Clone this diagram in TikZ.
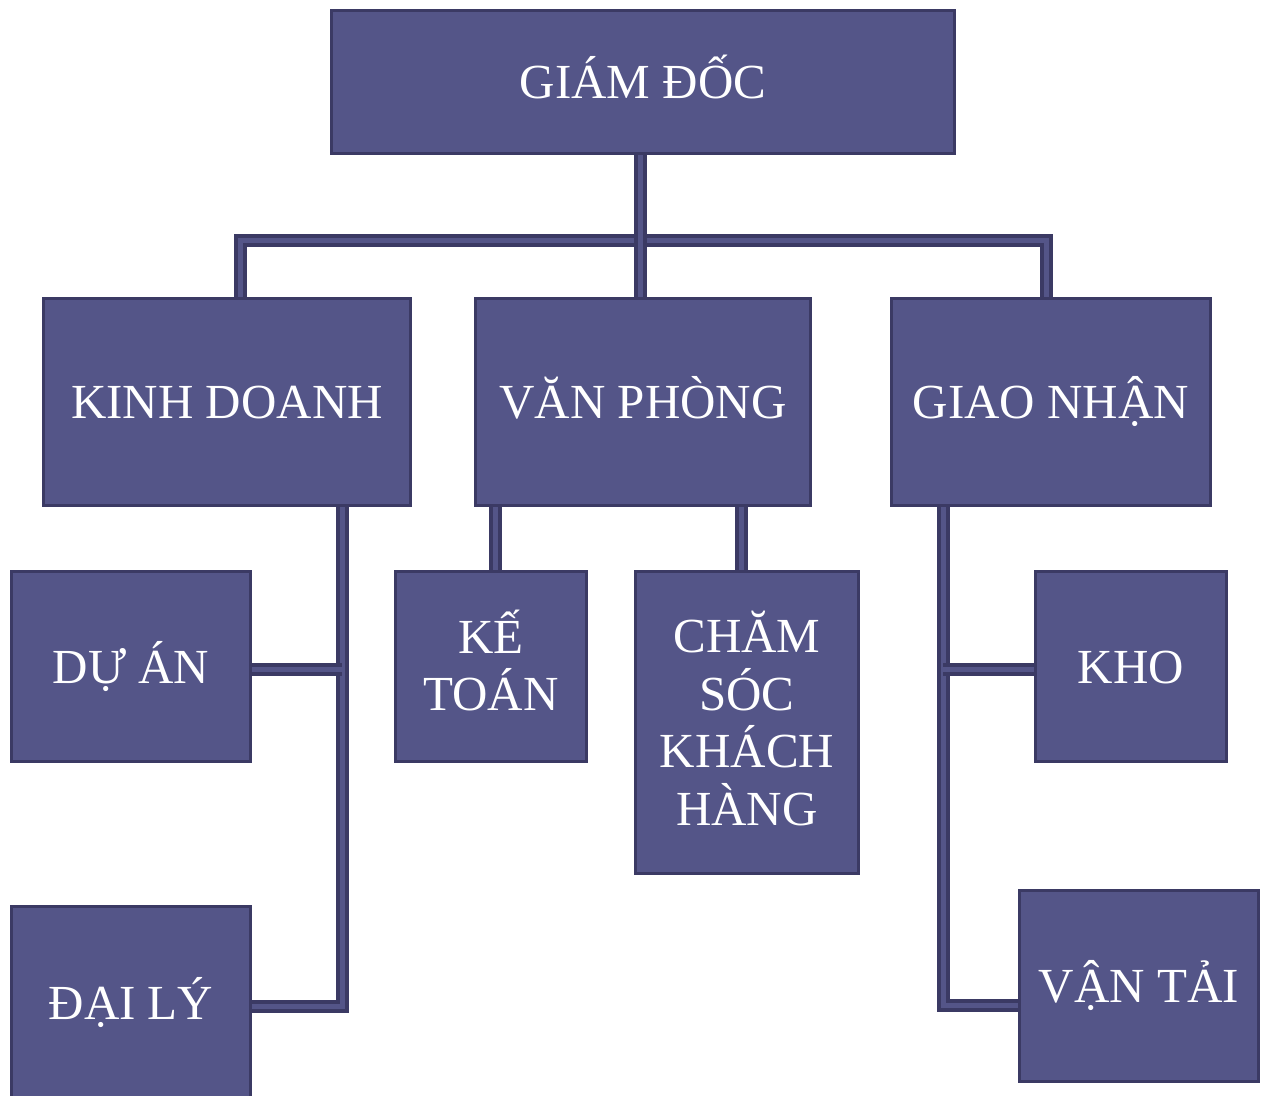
\documentclass[tikz,border=0pt]{standalone}
\usepackage{fontspec}
\setmainfont{Liberation Serif}
\usetikzlibrary{backgrounds}
\definecolor{boxfill}{HTML}{545588}
\definecolor{boxline}{HTML}{3B3A64}
\begin{document}
\begin{tikzpicture}[x=1pt,y=-1pt,
  box/.style={draw=boxline, line width=3pt, fill=boxfill, rectangle, inner sep=0pt,
    text=white, font=\fontsize{49}{57.5}\selectfont, align=center},
  lbl/.style={text=white, font=\fontsize{49}{57.5}\selectfont, align=center, inner sep=0pt},
  one/.style={text height=33pt, text depth=0pt},
  conn/.style={draw=boxline, line width=4pt, double=boxfill, double distance=5pt, line join=miter}]
\useasboundingbox (0,0) rectangle (1265,1095);
\begin{scope}
\clip (0,0) rectangle (1265,1095);
% boxes
\node[box, one, minimum width=623pt, minimum height=143pt] (gd) at (643,82) {GIÁM ĐỐC};
\node[box, one, minimum width=367pt, minimum height=207pt] (kd) at (227,402) {KINH DOANH};
\node[box, one, minimum width=335pt, minimum height=207pt] (vp) at (643,402) {VĂN PHÒNG};
\node[box, one, minimum width=319pt, minimum height=207pt] (gn) at (1051,402) {GIAO NHẬN};
\node[box, one, minimum width=239pt, minimum height=190pt] (da) at (131,666.5) {DỰ ÁN};
\node[box, one, minimum width=239pt, minimum height=192pt] (dl) at (131,1002.5) {ĐẠI LÝ};
\node[box, minimum width=191pt, minimum height=190pt,
  label={[lbl, yshift=6pt]center:KẾ\\TOÁN}] (kt) at (491,666.5) {};
\node[box, minimum width=223pt, minimum height=302pt,
  label={[lbl, yshift=4pt]center:CHĂM\\SÓC\\KHÁCH\\HÀNG}] (cs) at (747,722.5) {};
\node[box, one, minimum width=191pt, minimum height=190pt] (kh) at (1131,666.5) {KHO};
\node[box, one, minimum width=239pt, minimum height=191pt] (vt) at (1139,986) {VẬN TẢI};
% connectors
\begin{pgfonlayer}{background}
\draw[conn] ([xshift=13pt]kd.north) -- ++(0,-57) -| ([xshift=-5pt]gn.north);
\draw[conn] ([xshift=-3pt]gd.south) -- ([xshift=-3pt]vp.north);
\draw[conn] ([xshift=115pt]kd.south) |- ([yshift=-4pt]dl.east);
\draw[conn] ([yshift=-3pt]da.east) -- ++(90,0);
\draw[conn] (vp.south -| kt.north) ++(4,0) coordinate (ktc) -- (ktc |- kt.north);
\draw[conn] (vp.south -| cs.north) ++(-6,0) coordinate (csc) -- (csc |- cs.north);
\draw[conn] ([xshift=-108pt]gn.south) |- ([yshift=-19pt]vt.west);
\draw[conn] ([yshift=-3pt]kh.west) -- ++(-91,0);
\end{pgfonlayer}
\end{scope}
\end{tikzpicture}
\end{document}
